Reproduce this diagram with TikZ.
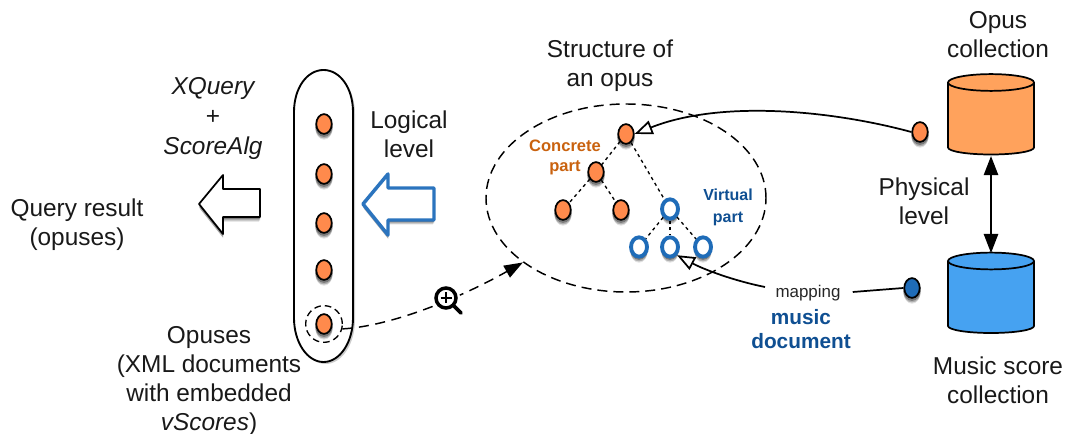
\documentclass[tikz,border=0pt]{standalone}
\usepackage{fontspec}
\setmainfont{Liberation Sans}
\usetikzlibrary{shapes.geometric,arrows.meta,calc,shadows}
\definecolor{nodeor}{HTML}{FF8A4C}
\definecolor{cylor}{HTML}{FFA25C}
\definecolor{cylbl}{HTML}{46A2F1}
\definecolor{nodebl}{HTML}{1F6CB8}
\definecolor{arrbl}{HTML}{2B74BE}
\definecolor{txtor}{HTML}{C9620F}
\definecolor{txtbl}{HTML}{0F4F92}
\newcommand{\sz}[2]{\fontsize{#1}{#2}\selectfont}
\newcommand{\dbshape}[2]{%
  \begin{scope}[shift={(991,#1)}]
    \draw[fill=#2,line width=1.3pt,line join=round]
      (-43,0) -- (-43,65)
      .. controls (-43,68.9) and (-23.7,72) .. (0,72)
      .. controls (23.7,72) and (43,68.9) .. (43,65) -- (43,0)
      .. controls (43,-4.6) and (23.7,-8.4) .. (0,-8.4)
      .. controls (-23.7,-8.4) and (-43,-4.6) .. (-43,0) -- cycle;
    \draw[line width=1.3pt]
      (-43,0) .. controls (-43,4.6) and (-23.7,8.4) .. (0,8.4)
      .. controls (23.7,8.4) and (43,4.6) .. (43,0);
  \end{scope}}
% soft shadow under an oval: three stacked translucent ellipses
\newcommand{\ovalshadow}[2]{%
  \fill[black,fill opacity=.12] (#1,#2+5) ellipse [x radius=6.3pt,y radius=8pt];
  \fill[black,fill opacity=.22] (#1,#2+3.5) ellipse [x radius=6.6pt,y radius=8.2pt];
  \fill[black,fill opacity=.30] (#1,#2+2) ellipse [x radius=6.6pt,y radius=8.2pt];
}
\tikzset{
  softshadow/.style={
    general shadow={shadow yshift=-3.8pt,shadow scale=.97,fill=black,draw=none,fill opacity=.14},
    general shadow={shadow yshift=-2.6pt,shadow scale=1.0,fill=black,draw=none,fill opacity=.22},
    general shadow={shadow yshift=-1.4pt,shadow scale=1.0,fill=black,draw=none,fill opacity=.25}},
  dot/.style={ellipse,draw=black,line width=1.3pt,fill=nodeor,minimum width=11.6pt,minimum height=14.8pt,inner sep=0pt},
  ring/.style={ellipse,draw=nodebl,line width=2.9pt,fill=white,minimum width=12pt,minimum height=14.5pt,inner sep=0pt},
  lab/.style={align=center,inner sep=0pt,text=black!90,font=\sz{18.3}{21.8}},
  dbbox/.style={inner sep=0pt,minimum width=64.5pt,minimum height=59.5pt},
  treeline/.style={line width=1pt,dash pattern=on 2.4pt off 2.6pt},
  openhead/.style={-{Triangle[open,fill=white,length=13.5pt,width=10.5pt]}},
}
\begin{document}
\begin{tikzpicture}[x=0.75pt,y=-0.75pt]
\useasboundingbox (0,0) rectangle (1067,434);

% capsule
\draw[fill=white,draw=black,line width=1.4pt,general shadow={shadow xshift=1.5pt,shadow yshift=-1.5pt,fill=black,draw=none,fill opacity=.2}]
  (294,112) .. controls (294,88) and (307,70) .. (323.5,70)
  .. controls (340,70) and (353,88) .. (353,112) -- (353,318)
  .. controls (353,342) and (340,362) .. (323.5,362)
  .. controls (307,362) and (294,342) .. (294,318) -- cycle;

% dots in capsule
\foreach \yy in {124,174,223,270,324} {\ovalshadow{324}{\yy}}
\node[dot] (o1) at (324,124) {};
\node[dot] (o2) at (324,174) {};
\node[dot] (o3) at (324,223) {};
\node[dot] (o4) at (324,270) {};
\node[dot] (o5) at (324,324) {};
\node[circle,draw=black,line width=1pt,dash pattern=on 5pt off 3pt,minimum size=27.5pt,inner sep=0pt] (zoomring) at (324,324) {};

% block arrows
\draw[draw=black,fill=white,line width=1.3pt,line join=round,softshadow] (199,204) -- (223,175) -- (223,189) -- (260,189) -- (260,217) -- (223,217) -- (223,234) -- cycle;
\draw[draw=arrbl,fill=white,line width=2.6pt,line join=round,softshadow] (363,204) -- (388,174) -- (388,188) -- (434,188) -- (434,220) -- (388,220) -- (388,235) -- cycle;

% big dashed ellipse
\node[ellipse,draw=black,line width=1.1pt,dash pattern=on 7.5pt off 4.5pt,minimum width=210pt,minimum height=141pt,inner sep=0pt] (structure) at (626,198) {};

% tree
\ovalshadow{626}{134}\ovalshadow{596}{172}\ovalshadow{563}{210}\ovalshadow{621}{210}
\ovalshadow{670}{209}\ovalshadow{639}{247}\ovalshadow{670}{247}\ovalshadow{703}{247}
\node[dot] (root) at (626,134) {};
\node[dot] (c1) at (596,172) {};
\node[dot] (c2) at (563,210) {};
\node[dot] (c3) at (621,210) {};
\node[ring] (v0) at (670,209) {};
\node[ring] (v1) at (639,247) {};
\node[ring] (v2) at (670,247) {};
\node[ring] (v3) at (703,247) {};
\draw[treeline] (root) -- (c1);
\draw[treeline] (c1) -- (c2);
\draw[treeline] (c1) -- (c3);
\draw[treeline] (root) -- (v0);
\draw[treeline] (v0) -- (v1);
\draw[treeline] (v0) -- (v2);
\draw[treeline] (v0) -- (v3);

% cylinders
\dbshape{82.5}{cylor}
\dbshape{261}{cylbl}
\node[dbbox] (opusdb) at (991,114.5) {};
\node[dbbox] (scoredb) at (991,293) {};
\draw[{Triangle[length=14.3pt,width=10.7pt]}-{Triangle[length=14.3pt,width=10.7pt]},line width=1.3pt,shorten <=1.2pt] (opusdb.south) -- (scoredb.north);

% source dots
\ovalshadow{920}{132}\ovalshadow{912}{288}
\node[dot] (opusdot) at (920,132) {};
\node[dot,fill=nodebl] (scoredot) at (912,288) {};

% connectors
\draw[openhead,line width=1.3pt] (opusdot.west) .. controls (830,110) and (720,100) .. (root.east);
\node[inner sep=0pt,font=\sz{12.7}{15},text=black!85] (mapping) at (808,293) {mapping};
\draw[line width=1.3pt] (scoredot.west) -- ($(mapping.east)+(12,-1)$) coordinate (mapr);
\coordinate (mapl) at (765,287);
\draw[openhead,line width=1.3pt] (mapl) .. controls (735,281) and (705,270) .. (v2.south east);

% zoom link
\coordinate (lenspt) at (446,298);
\draw[-{Triangle[length=14pt,width=10pt]},line width=1.1pt,dash pattern=on 7.5pt off 5pt] (zoomring.345) .. controls (392,326) and (460,298) .. (structure.212);
\node[circle,fill=white,inner sep=0pt,minimum size=21pt] (lens) at (lenspt) {};
\draw[line width=2.8pt,line cap=round] (lens.center) ++(8,8) -- ++(7,7);
\node[circle,draw=black,line width=2.6pt,minimum size=15pt,inner sep=0pt] at (lens) {};
\draw[line width=1.9pt] (lens.center) ++(-5.5,0) -- ++(11,0) (lens.center) ++(0,-5.5) -- ++(0,11);

% labels
\node[lab] (t1) at (998,34.5) {Opus\\collection};
\node[lab] (t2) at (610,66) {Structure of\\an opus};
\node[lab,font=\sz{18.3}{22.5}\itshape] (t3) at (213,119) {XQuery\\{\upshape +}\\ScoreAlg};
\node[lab] (t4) at (409,134.5) {Logical\\level};
\node[lab] (t5) at (77,225) {Query result\\(opuses)};
\node[lab] (t6) at (209,381) {Opuses\\(XML documents\\with embedded\\{\itshape vScores})};
\node[lab] (t7) at (924,201.5) {Physical\\level};
\node[lab] (t8) at (998,380.5) {Music score\\collection};
\node[lab,font=\sz{12.4}{15}\bfseries,text=txtor] (t9) at (565,157) {Concrete\\part};
\node[lab,font=\sz{12}{16.5}\bfseries,text=txtbl] (t10) at (728,207) {Virtual\\part};
\node[lab,font=\sz{15.6}{18}\bfseries,text=txtbl] (t11) at (801,329) {music\\document};
\end{tikzpicture}
\end{document}
